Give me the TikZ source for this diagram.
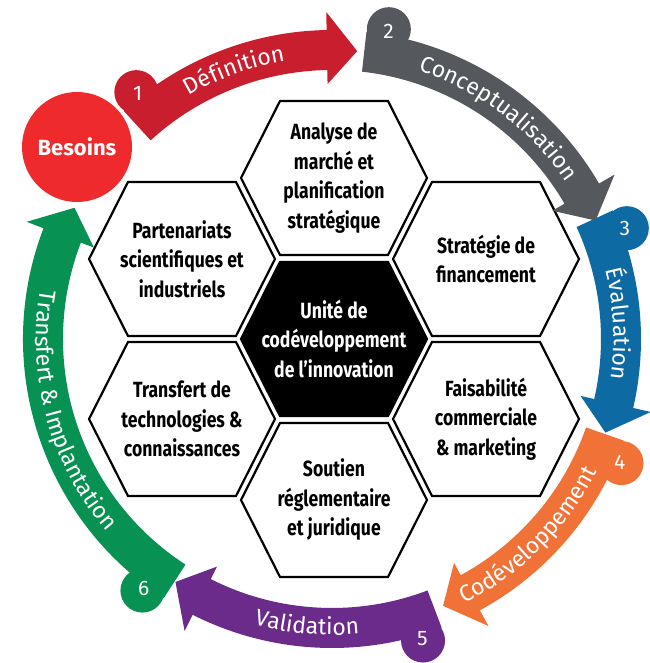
\documentclass[tikz,border=0pt]{standalone}
\usepackage{fontspec}
\setmainfont{Fira Sans}
\newfontfamily\hexfam[FakeStretch=0.8]{Fira Sans}
\usetikzlibrary{calc,decorations.text}
\definecolor{cred}{HTML}{C81E2D}
\definecolor{cbes}{HTML}{EE2A2D}
\definecolor{cgrey}{HTML}{55585D}
\definecolor{cblue}{HTML}{0E6AA3}
\definecolor{corange}{HTML}{F07236}
\definecolor{cpurple}{HTML}{6A2B8A}
\definecolor{cgreen}{HTML}{079152}
\newcommand\bandfont{\fontsize{23}{23}\selectfont}
\newcommand\ringarrow[5]{%
  \pgfmathsetmacro\rastart{#2+4}%
  \pgfmathsetmacro\rabase{#3+6}%
  \fill[#1] ($(C)+(\rastart:309pt)$) arc[start angle=\rastart, end angle=\rabase, radius=309pt]
    -- ($(C)+(\rabase:327pt)$) -- ($(C)+(#3:289pt)$) -- ($(C)+(\rabase:255pt)$)
    -- ($(C)+(\rabase:269pt)$) arc[start angle=\rabase, end angle=\rastart, radius=269pt] -- cycle;
  \fill[#1] ($(C)+(#2:315pt)$) circle[radius=22pt];
  \node[numlabel] (#5) at ($(C)+(#2:313pt)$) {#4};
}
\newcommand\bandtext[4]{%
  \path[decorate, decoration={text along path, text align=center, text={|\color{white}\bandfont|#4}}]
    ($(C)+(#1:#3)$) arc[start angle=#1, end angle=#2, radius=#3];
}
\newcommand\hexat[2]{%
  \draw[hexline,#2] (#1) ++(-93,0) -- ++(39,77) -- ++(108,0) -- ++(39,-77) -- ++(-39,-77) -- ++(-108,0) -- cycle;
}
\begin{document}
\begin{tikzpicture}[x=1pt,y=1pt,
  hexline/.style={line width=2.2pt, draw=black, line join=miter},
  hextext/.style={align=center, text=black, font=\hexfam\bfseries\fontsize{22}{29.5}\selectfont, inner sep=0},
  numlabel/.style={text=white, font=\fontsize{21}{21}\selectfont, inner sep=0}]
\useasboundingbox (0,0) rectangle (649,663);
\fill[white] (0,0) rectangle (649,663);
\coordinate (C) at (332,324);
% hexagon centres
\coordinate (pC) at (334,324);
\coordinate (pT) at (334,485);
\coordinate (pB) at (334,163);
\coordinate (pUL) at (182,404);
\coordinate (pLL) at (182,244);
\coordinate (pUR) at (486,404);
\coordinate (pLR) at (486,244);
\hexat{pT}{fill=white}
\hexat{pB}{fill=white}
\hexat{pUL}{fill=white}
\hexat{pLL}{fill=white}
\hexat{pUR}{fill=white}
\hexat{pLR}{fill=white}
\hexat{pC}{fill=black}
\node[hextext] (tT) at (pT) {Analyse de\\marché et\\planification\\stratégique};
\node[hextext] (tUL) at (pUL) {Partenariats\\scientifiques et\\industriels};
\node[hextext] (tUR) at (pUR) {Stratégie de\\financement};
\node[hextext, text=white] (tC) at (pC) {Unité de\\codéveloppement\\de l’innovation};
\node[hextext] (tLL) at (pLL) {Transfert de\\technologies \&\\connaissances};
\node[hextext] (tLR) at (pLR) {Faisabilité\\commerciale\\\& marketing};
\node[hextext] (tB) at (pB) {Soutien\\réglementaire\\et juridique};
% ring of arrows
\ringarrow{cgreen}{-127}{-207}{6}{n6}
\ringarrow{cpurple}{-73.2}{-122.8}{5}{n5}
\ringarrow{corange}{-23.2}{-67.4}{4}{n4}
\ringarrow{cblue}{20.6}{-18.9}{3}{n3}
\ringarrow{cgrey}{79.6}{24.2}{2}{n2}
\ringarrow{cred}{128.4}{85}{1}{n1}
\node[circle, fill=cbes, minimum size=110pt, inner sep=0, text=white,
  font=\bfseries\fontsize{22}{22}\selectfont] (besoins) at (77,516) {Besoins};
% band labels
\bandtext{150}{70}{282pt}{Définition}
\bandtext{100}{6}{282pt}{Conceptualisation}
\bandtext{40}{-34}{282pt}{Évaluation}
\bandtext{-90}{0}{296pt}{Codéveloppement}
\bandtext{-135}{-55}{296pt}{Validation}
\bandtext{150}{241}{296pt}{Transfert {\&} Implantation}
\end{tikzpicture}
\end{document}
